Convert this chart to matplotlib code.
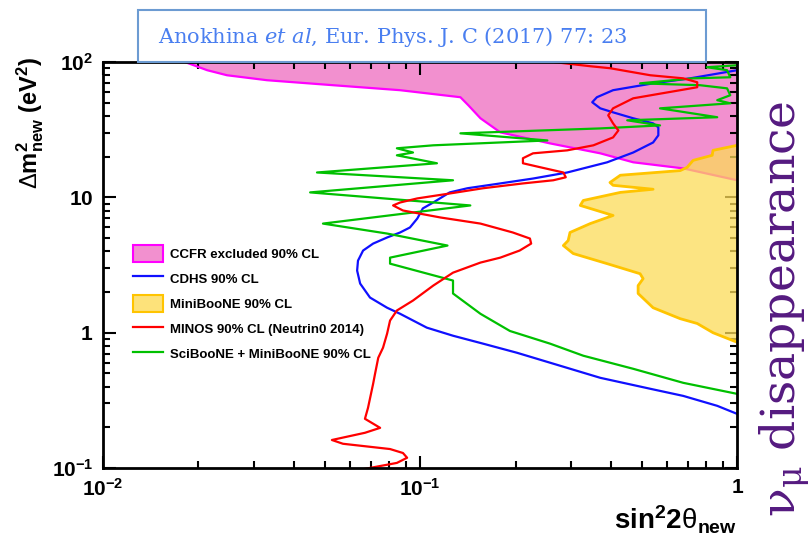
import matplotlib
matplotlib.use("Agg")
import matplotlib.pyplot as plt
from matplotlib.patches import Patch, Rectangle
from matplotlib.lines import Line2D
from matplotlib.ticker import LogLocator, NullFormatter, FixedLocator, FixedFormatter

plt.rcParams['font.family'] = ['Liberation Sans', 'DejaVu Sans']
plt.rcParams['mathtext.fontset'] = 'custom'
plt.rcParams['mathtext.rm'] = 'Liberation Sans'
plt.rcParams['mathtext.bf'] = 'Liberation Sans:bold'
plt.rcParams['mathtext.it'] = 'Liberation Sans:italic'

# --- dados (sin^2 2theta, dm^2 em eV^2) ---
ccfr_x = [0.0182, 0.0213, 0.0246, 0.0329, 0.0532, 0.0865, 0.134, 0.142, 0.155,
          0.179, 0.257, 0.370, 0.470, 0.676, 1.0]
ccfr_y = [100, 87.3, 80.1, 73.6, 67.6, 62.1, 55.1, 48.0, 38.5,
          30.3, 25.1, 21.2, 18.2, 16.4, 13.4]

mb_x = [1.0, 0.839, 0.834, 0.726, 0.695, 0.661, 0.428, 0.397, 0.406, 0.543, 0.428,
        0.327, 0.320, 0.406, 0.344, 0.297, 0.293, 0.283, 0.304, 0.389, 0.494,
        0.505, 0.487, 0.487, 0.543, 0.661, 0.748, 0.839, 0.971, 1.0]
mb_y = [24.3, 22.3, 20.5, 18.8, 16.7, 15.8, 14.6, 12.9, 12.3, 11.5, 10.9,
        9.5, 8.73, 7.36, 6.41, 5.51, 4.8, 4.41, 3.85, 3.24, 2.73,
        2.51, 2.23, 1.95, 1.53, 1.27, 1.17, 1.0, 0.873, 0.85]

cdhs_x = [1.0, 0.711, 0.543, 0.406, 0.361, 0.349, 0.370, 0.406, 0.470, 0.543, 0.564,
          0.564, 0.543, 0.470, 0.389, 0.291, 0.227, 0.179, 0.141, 0.124, 0.110,
          0.102, 0.098, 0.0929, 0.0865, 0.0787, 0.0711, 0.0661, 0.0637, 0.0633,
          0.0647, 0.0695, 0.0787, 0.0865, 0.105, 0.127, 0.158, 0.202, 0.257,
          0.370, 0.532, 0.676, 0.865, 1.0]
cdhs_y = [87.3, 76, 69.8, 62.1, 55.1, 50.6, 45.6, 42.6, 38.5, 35.3, 33.0,
          28.8, 25.5, 21.5, 18.2, 15.3, 13.8, 12.7, 11.7, 10.9, 9.18,
          8.3, 6.99, 6.0, 5.51, 5.06, 4.56, 4.05, 3.41, 2.88,
          2.31, 1.82, 1.53, 1.38, 1.09, 0.95, 0.83, 0.711, 0.60,
          0.464, 0.385, 0.341, 0.288, 0.251]

minos_x = [0.267, 0.344, 0.397, 0.532, 0.676, 0.748, 0.748, 0.661, 0.470, 0.406,
           0.392, 0.406, 0.422, 0.406, 0.352, 0.291, 0.227, 0.211, 0.211, 0.240,
           0.283, 0.288, 0.263, 0.211, 0.158, 0.124, 0.098, 0.0865, 0.0822,
           0.0883, 0.116, 0.155, 0.196, 0.222, 0.224, 0.206, 0.179, 0.155,
           0.127, 0.110, 0.095, 0.0845, 0.0804, 0.0787, 0.0764, 0.0738, 0.0721,
           0.0711, 0.0685, 0.067, 0.0748, 0.067, 0.0527, 0.0571, 0.0804, 0.0883,
           0.091, 0.0845, 0.067]
minos_y = [100, 93.4, 90.3, 80.1, 76, 71.1, 65.3, 62.1, 54.1, 45.6,
           40.5, 35.3, 31.3, 27.8, 24.3, 22.3, 21.2, 19.5, 17.9, 16.7,
           15.3, 14.1, 13.4, 12.7, 11.7, 10.7, 9.84, 9.18, 8.73,
           8.01, 7.11, 6.41, 5.51, 4.97, 4.56, 4.05, 3.59, 3.3,
           2.78, 2.23, 1.73, 1.46, 1.23, 0.985, 0.775, 0.653, 0.497,
           0.419, 0.278, 0.231, 0.198, 0.182, 0.161, 0.151, 0.138, 0.129,
           0.119, 0.109, 0.0985]

sbmb_x = [1.0, 0.803, 0.929, 0.951, 0.726, 0.494, 0.764, 0.929, 0.951, 0.865, 0.951,
          0.571, 0.865, 0.450, 0.571, 0.370, 0.134, 0.252, 0.110, 0.0845, 0.095,
          0.0845, 0.113, 0.0473, 0.127, 0.045, 0.144, 0.095, 0.0494, 0.0787,
          0.122, 0.0804, 0.0804, 0.127, 0.127, 0.155, 0.192, 0.257, 0.327,
          0.470, 0.676, 1.0]
sbmb_y = [95, 91.8, 87.3, 77.4, 76, 69.8, 67.6, 64.1, 57, 52.4, 49.7,
          45.6, 39.2, 37.2, 34.1, 32.4, 29.8, 26.4, 24.3, 23.1, 21.5,
          20.5, 17.9, 15.3, 13.4, 10.9, 8.73, 7.74, 6.41, 5.41,
          4.41, 3.59, 3.24, 2.43, 1.95, 1.38, 1.03, 0.83, 0.676,
          0.541, 0.426, 0.353]

x_ticks = [0.01, 0.1, 1]
x_labels = [r'$\mathbf{10^{-2}}$', r'$\mathbf{10^{-1}}$', r'$\mathbf{1}$']
y_ticks = [0.1, 1, 10, 100]
y_labels = [r'$\mathbf{10^{-1}}$', r'$\mathbf{1}$', r'$\mathbf{10}$', r'$\mathbf{10^{2}}$']

fig = plt.figure(figsize=(8.11, 5.41), dpi=100)
ax = fig.add_axes([0.127, 0.135, 0.782, 0.750])
ax.set_xscale('log')
ax.set_yscale('log')

# regiões preenchidas
ccfr_fill_x = ccfr_x + [1.0, 0.0182]
ccfr_fill_y = ccfr_y + [100, 100]
ax.fill(ccfr_fill_x, ccfr_fill_y, facecolor='#f290cf', edgecolor='none', zorder=1)
ax.plot(ccfr_x, ccfr_y, color='#ff00ff', lw=1.6, zorder=2)
ax.fill(mb_x, mb_y, facecolor='#fcdb58', alpha=0.75, edgecolor='none', zorder=3)
ax.plot(mb_x, mb_y, color='#ffc400', lw=2.0, zorder=4)

# curvas
ax.plot(cdhs_x, cdhs_y, color='#1010ff', lw=1.6, zorder=5)
ax.plot(minos_x, minos_y, color='#ff0000', lw=1.6, zorder=6)
ax.plot(sbmb_x, sbmb_y, color='#00c000', lw=1.6, zorder=5)

ax.set_xlim(0.01, 1)
ax.set_ylim(0.1, 100)

ax.xaxis.set_major_locator(FixedLocator(x_ticks))
ax.xaxis.set_major_formatter(FixedFormatter(x_labels))
ax.yaxis.set_major_locator(FixedLocator(y_ticks))
ax.yaxis.set_major_formatter(FixedFormatter(y_labels))
ax.xaxis.set_minor_locator(LogLocator(base=10, subs=range(2, 10)))
ax.yaxis.set_minor_locator(LogLocator(base=10, subs=range(2, 10)))
ax.xaxis.set_minor_formatter(NullFormatter())
ax.yaxis.set_minor_formatter(NullFormatter())
ax.tick_params(which='both', direction='in', top=True, right=True, width=1.5,
               labelsize=15, zorder=10)
ax.tick_params(which='major', length=9, pad=7)
ax.tick_params(which='minor', length=5)
for s in ax.spines.values():
    s.set_linewidth(2)
    s.set_zorder(10)

fig.text(0.909, 0.022, r'$\mathbf{sin^{2}2}\mathrm{\theta}_{\mathbf{new}}$',
         ha='right', va='baseline', fontsize=20)
fig.text(0.037, 0.895, r'$\Delta\mathbf{m^{2}_{new}\ (eV^{2})}$',
         rotation=90, ha='center', va='top', fontsize=17)

# legenda
handles = [
    Patch(facecolor='#f290cf', edgecolor='#ff00ff', lw=1.5),
    Line2D([], [], color='#1010ff', lw=1.6),
    Patch(facecolor='#fde27a', edgecolor='#ffc400', lw=1.5),
    Line2D([], [], color='#ff0000', lw=1.6),
    Line2D([], [], color='#00c000', lw=1.6),
]
labels = ['CCFR excluded 90% CL', 'CDHS 90% CL', 'MiniBooNE 90% CL',
          'MINOS 90% CL (Neutrin0 2014)', 'SciBooNE + MiniBooNE 90% CL']
leg = ax.legend(handles, labels, loc='upper left', bbox_to_anchor=(0.164, 0.547),
                bbox_transform=fig.transFigure, frameon=False,
                prop={'weight': 'bold', 'size': 9.5}, handlelength=2.3,
                handleheight=1.55, handletextpad=0.5, labelspacing=0.65,
                borderpad=0, borderaxespad=0)
leg.set_zorder(20)

# caixa do título
fig.add_artist(Rectangle((0.170, 0.885), 0.700, 0.097, transform=fig.transFigure,
                         facecolor='white', edgecolor='#6c9bd2', lw=1.5, zorder=30))
fig.text(0.195, 0.932, 'Anokhina $\\it{et\\ al}$, Eur. Phys. J. C (2017) 77: 23',
         ha='left', va='center', fontsize=15, color='#4a7ff0', zorder=31,
         family='DejaVu Serif', math_fontfamily='dejavuserif')

fig.text(0.968, 0.43, r'$\mathrm{\nu_{\mu}}$ disappearance', rotation=90,
         ha='center', va='center', fontsize=34, color='#551a80',
         family='DejaVu Serif', math_fontfamily='dejavuserif')

fig.savefig('out.png', dpi=100)
